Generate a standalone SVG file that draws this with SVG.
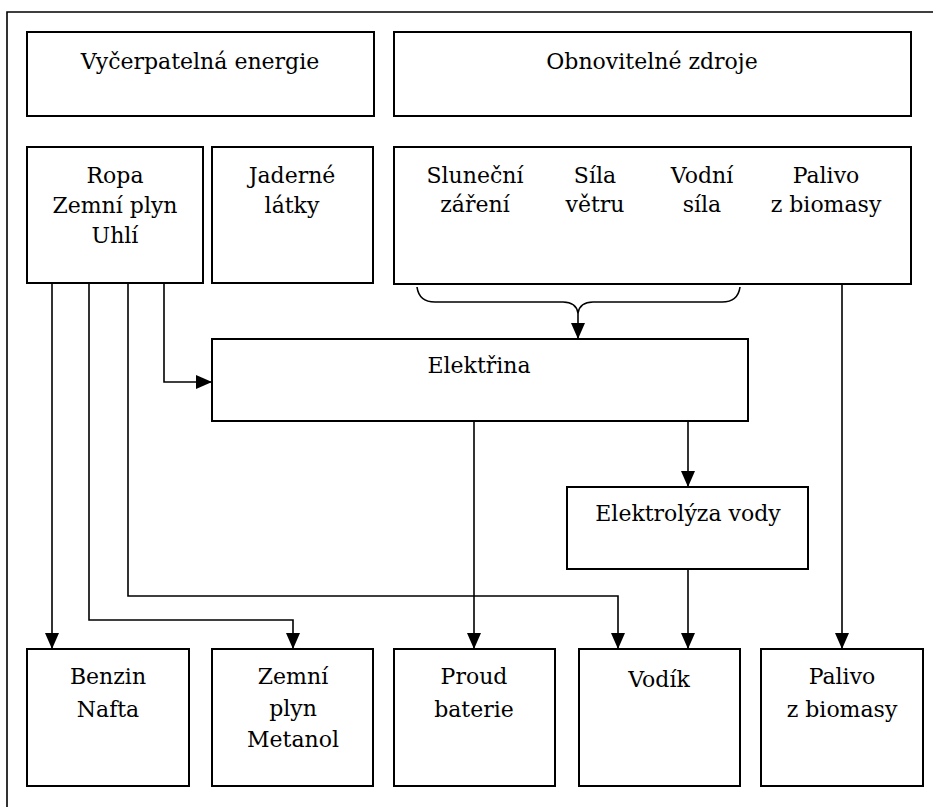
<svg xmlns="http://www.w3.org/2000/svg" width="933" height="807" viewBox="0 0 933 807">
<defs>
<style>
.box{fill:#fff;stroke:#000;stroke-width:2}
.ln{fill:none;stroke:#000;stroke-width:1.6}
.t{font-family:'DejaVu Serif',serif;font-size:22px;fill:#000;text-anchor:middle}
</style>
<marker id="ah" markerUnits="userSpaceOnUse" markerWidth="17" markerHeight="15" refX="16" refY="7" orient="auto">
<path d="M0,0 L16,7 L0,14 Z" fill="#000"/>
</marker>
</defs>
<rect width="933" height="807" fill="#fff"/>
<g id="frame"><path class="ln" d="M7,807 V12 H933" stroke-width="2"/></g>

<g id="vycerpatelna" font-family="DejaVu Serif, serif"><rect class="box" x="27" y="32" width="347" height="84"/><text class="t" x="200" y="69">Vyčerpatelná energie</text></g>
<g id="obnovitelne" font-family="DejaVu Serif, serif"><rect class="box" x="394" y="32" width="517" height="84"/><text class="t" x="652" y="69">Obnovitelné zdroje</text></g>

<g id="fosilni" font-family="DejaVu Serif, serif"><rect class="box" x="27" y="147" width="176" height="136"/>
<text class="t" x="115" y="183">Ropa</text><text class="t" x="115" y="213">Zemní plyn</text><text class="t" x="115" y="243">Uhlí</text></g>
<g id="jaderne" font-family="DejaVu Serif, serif"><rect class="box" x="212" y="147" width="161" height="136"/>
<text class="t" x="292" y="183">Jaderné</text><text class="t" x="292" y="213">látky</text></g>
<g id="obnovitelne-zdroje" font-family="DejaVu Serif, serif"><rect class="box" x="394" y="147" width="517" height="137"/>
<text class="t" x="475" y="183">Sluneční</text><text class="t" x="475" y="212">záření</text>
<text class="t" x="595" y="183">Síla</text><text class="t" x="595" y="212">větru</text>
<text class="t" x="702" y="183">Vodní</text><text class="t" x="702" y="212">síla</text>
<text class="t" x="826" y="183">Palivo</text><text class="t" x="826" y="212">z biomasy</text></g>

<g id="elektrina" font-family="DejaVu Serif, serif"><rect class="box" x="212" y="339" width="536" height="82"/><text class="t" x="479" y="373">Elektřina</text></g>
<g id="elektrolyza" font-family="DejaVu Serif, serif"><rect class="box" x="567" y="487" width="241" height="82"/><text class="t" x="688" y="521">Elektrolýza vody</text></g>

<g id="benzin" font-family="DejaVu Serif, serif"><rect class="box" x="27" y="649" width="162" height="137"/>
<text class="t" x="108" y="684">Benzin</text><text class="t" x="108" y="717">Nafta</text></g>
<g id="zemni-plyn" font-family="DejaVu Serif, serif"><rect class="box" x="212" y="649" width="161" height="137"/>
<text class="t" x="293" y="684">Zemní</text><text class="t" x="293" y="716">plyn</text><text class="t" x="293" y="747">Metanol</text></g>
<g id="proud" font-family="DejaVu Serif, serif"><rect class="box" x="394" y="649" width="161" height="137"/>
<text class="t" x="474" y="684">Proud</text><text class="t" x="474" y="717">baterie</text></g>
<g id="vodik" font-family="DejaVu Serif, serif"><rect class="box" x="579" y="649" width="161" height="137"/><text class="t" x="659" y="687">Vodík</text></g>
<g id="biomasa" font-family="DejaVu Serif, serif"><rect class="box" x="761" y="649" width="162" height="137"/>
<text class="t" x="842" y="684">Palivo</text><text class="t" x="842" y="717">z biomasy</text></g>

<g id="connectors">
<path class="ln" d="M417,287 Q419,302 435,302 H563 Q576,302 578,313 Q580,302 593,302 H722 Q738,302 740,287"/>
<path class="ln" d="M578,313 V339" marker-end="url(#ah)"/>
<path class="ln" d="M52,283 V649" marker-end="url(#ah)"/>
<path class="ln" d="M89,283 V620 H293 V649" marker-end="url(#ah)"/>
<path class="ln" d="M128,283 V596 H618 V649" marker-end="url(#ah)"/>
<path class="ln" d="M164,283 V382 H212" marker-end="url(#ah)"/>
<path class="ln" d="M474,421 V649" marker-end="url(#ah)"/>
<path class="ln" d="M688,421 V487" marker-end="url(#ah)"/>
<path class="ln" d="M688,569 V649" marker-end="url(#ah)"/>
<path class="ln" d="M842,284 V649" marker-end="url(#ah)"/>
</g>
</svg>
